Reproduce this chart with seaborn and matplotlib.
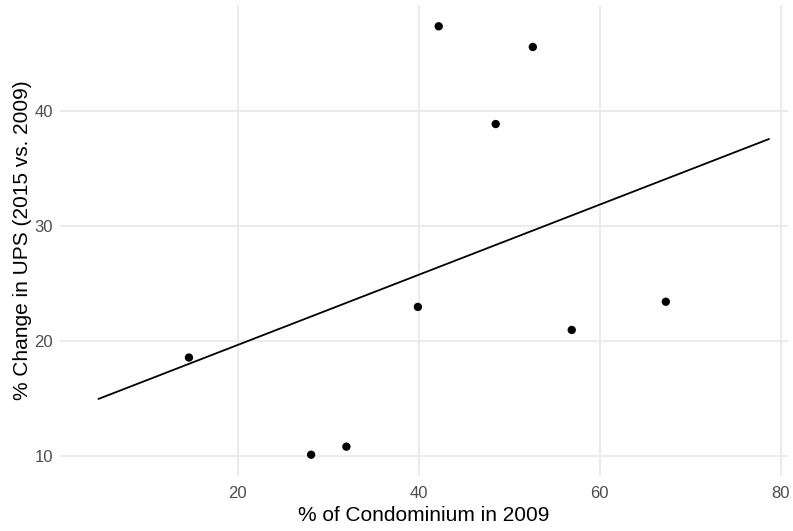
import matplotlib
matplotlib.use("Agg")
import matplotlib.pyplot as plt
import seaborn as sns
import pandas as pd

# Data
condo_2009 = [14.6, 28.1, 32.0, 39.9, 42.2, 48.5, 52.6, 56.9, 67.3]
ups_change = [18.6, 10.15, 10.85, 23.0, 47.4, 38.9, 45.6, 21.0, 23.45]
fit_x = [4.6, 78.7]
fit_y = [15.0, 37.6]
x_ticks = [20, 40, 60, 80]
y_ticks = [10, 20, 30, 40]

sns.set_theme(style="whitegrid")
plt.rcParams['font.family'] = ['Liberation Sans', 'DejaVu Sans']

pts = pd.DataFrame({"x": condo_2009, "y": ups_change})
line = pd.DataFrame({"x": fit_x, "y": fit_y})

fig = plt.figure(figsize=(7.93, 5.31), dpi=100)
ax = fig.add_axes([60/793, 1 - 476/531, (788-60)/793, (476-5)/531])

sns.lineplot(data=line, x="x", y="y", ax=ax, color="black", linewidth=1.3, zorder=2)
sns.scatterplot(data=pts, x="x", y="y", ax=ax, color="black", s=36, edgecolor="none", zorder=3)

ax.set_xlim(0.35, 80.8)
ax.set_ylim(8.3, 49.25)
ax.set_xticks(x_ticks)
ax.set_yticks(y_ticks)
ax.set_xticklabels([str(t) for t in x_ticks])
ax.set_yticklabels([str(t) for t in y_ticks])
ax.tick_params(axis="both", labelsize=12, labelcolor="#4D4D4D", length=0)
ax.tick_params(axis="x", pad=7)
ax.tick_params(axis="y", pad=5)

ax.set_facecolor("white")
for s in ax.spines.values():
    s.set_visible(False)
ax.grid(True, color="#EBEBEB", linewidth=1.4)
ax.set_axisbelow(True)

ax.set_xlabel("% of Condominium in 2009", fontsize=15, color="black", labelpad=4)
ax.set_ylabel("% Change in UPS (2015 vs. 2009)", fontsize=15, color="black", labelpad=2)

fig.savefig("out.png", dpi=100, facecolor="white")
